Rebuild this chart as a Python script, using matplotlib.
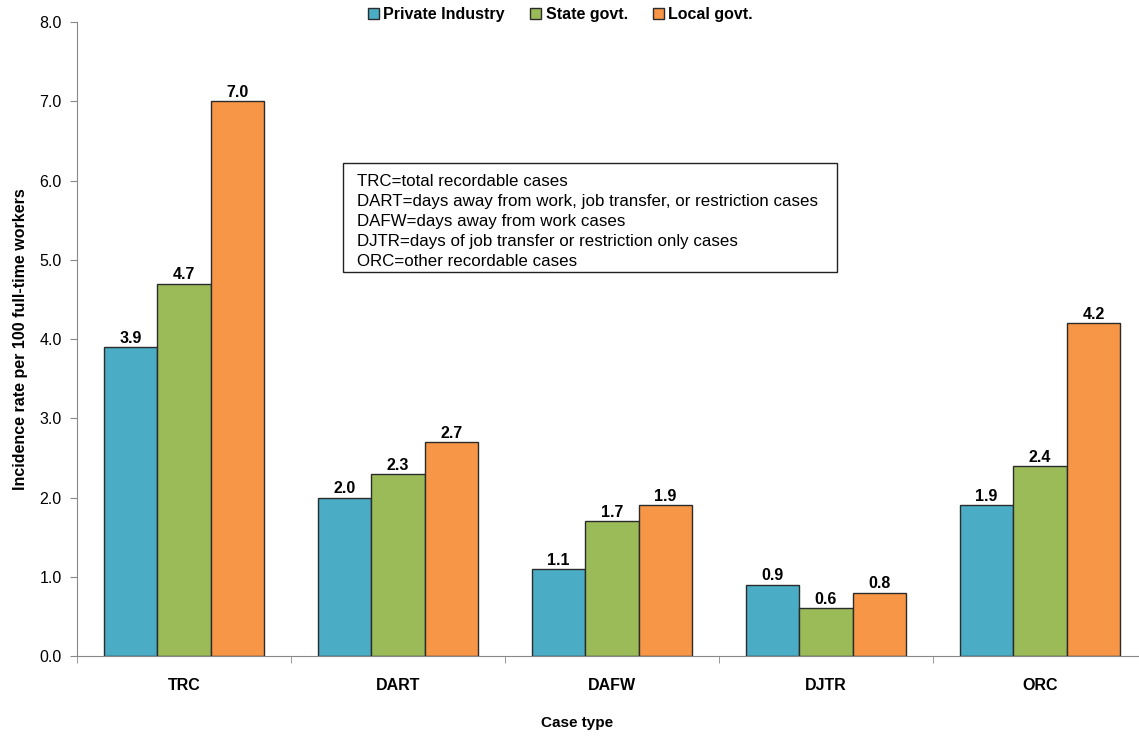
import matplotlib
import matplotlib.pyplot as plt
from matplotlib.patches import Rectangle
import numpy as np

matplotlib.use('agg')
plt.rcParams['font.family'] = ['Liberation Sans', 'DejaVu Sans']

case_types = ['TRC', 'DART', 'DAFW', 'DJTR', 'ORC']
private = [3.9, 2.0, 1.1, 0.9, 1.9]
state = [4.7, 2.3, 1.7, 0.6, 2.4]
local = [7.0, 2.7, 1.9, 0.8, 4.2]
series_names = ['Private Industry', 'State govt.', 'Local govt.']
colors = ['#4BACC6', '#9BBB59', '#F79646']

note = ('TRC=total recordable cases\n'
        'DART=days away from work, job transfer, or restriction cases\n'
        'DAFW=days away from work cases\n'
        'DJTR=days of job transfer or restriction only cases\n'
        'ORC=other recordable cases')

W, H = 1139, 736
fig = plt.figure(figsize=(W / 100, H / 100), dpi=100)
ax = fig.add_axes([0.0676, 0.1087, 0.9394, 0.8613])

x = np.arange(len(case_types))
w = 0.25
for i, (vals, name, c) in enumerate(zip([private, state, local], series_names, colors)):
    bars = ax.bar(x + (i - 1) * w, vals, w, color=c, edgecolor='#2b2b2b',
                  linewidth=1.0, label=name)
    for b, v in zip(bars, vals):
        ax.text(b.get_x() + b.get_width() / 2, v + 0.11, '%.1f' % v,
                ha='center', va='center', fontsize=11.5, fontweight='bold')

ax.set_xlim(-0.5, len(case_types) - 0.5)
ax.set_ylim(0, 8)
ax.set_yticks(np.arange(0, 8.1, 1.0))
ax.set_yticklabels(['%.1f' % t for t in np.arange(0, 8.1, 1.0)], fontsize=11.5)
ax.set_xticks(x)
ax.set_xticklabels(case_types, fontsize=11.5, fontweight='bold')
ax.set_xticks(np.arange(-0.5, len(case_types), 1.0), minor=True)
ax.tick_params(axis='x', which='major', length=0, pad=16)
ax.tick_params(axis='x', which='minor', length=5, color='#888888')
ax.tick_params(axis='y', length=5, color='#888888', pad=6)

for s in ['top', 'right']:
    ax.spines[s].set_visible(False)
for s in ['left', 'bottom']:
    ax.spines[s].set_color('#888888')

ax.set_ylabel('Incidence rate per 100 full-time workers', fontsize=11.5,
              fontweight='bold', labelpad=8)
ax.set_xlabel('Case type', fontsize=11, fontweight='bold')
ax.xaxis.set_label_coords(0.467, -0.0946)

ax.legend(loc='upper center', bbox_to_anchor=(0.452, 1.046), ncol=3,
          frameon=False, prop={'weight': 'bold', 'size': 11.5},
          handlelength=0.65, handleheight=0.65, handletextpad=0.3, columnspacing=1.6)

# definitions box
fig.patches.append(Rectangle((343 / W, 1 - 272 / H), (837 - 343) / W, (272 - 163) / H,
                             transform=fig.transFigure, facecolor='white',
                             edgecolor='#222222', linewidth=1.0, zorder=5))
fig.text(357 / W, 1 - 174 / H, note, fontsize=12.2, va='top', ha='left',
         linespacing=1.42, zorder=6)

fig.savefig('out.png', dpi=100)
